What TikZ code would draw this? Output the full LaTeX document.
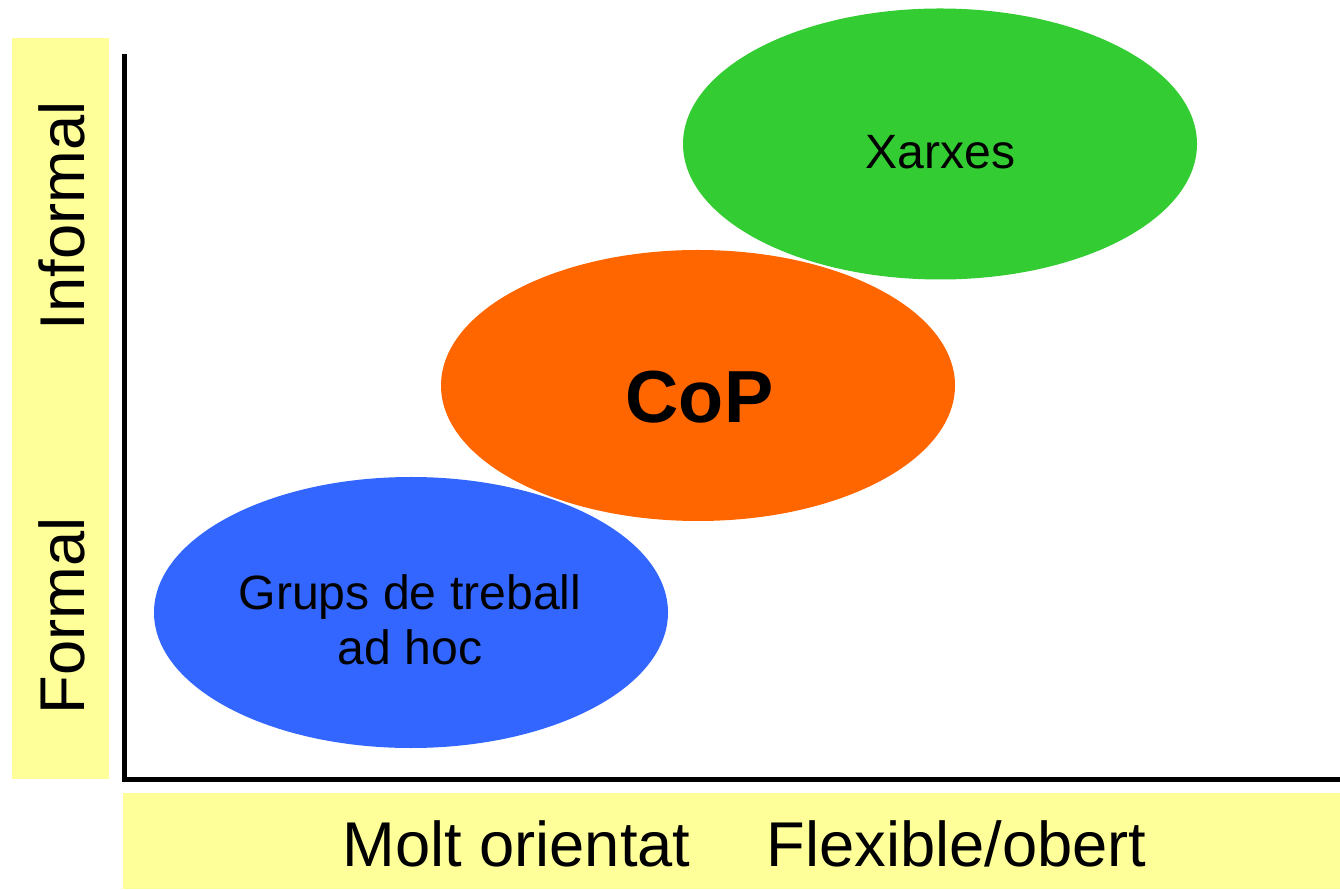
\documentclass[tikz,border=0pt]{standalone}
\usepackage{fontspec}
\setmainfont{Liberation Sans}
\usetikzlibrary{shapes.geometric}

\definecolor{bandyellow}{HTML}{FFFF99}
\definecolor{grupsblue}{HTML}{3366FF}
\definecolor{coporange}{HTML}{FF6600}
\definecolor{xarxgreen}{HTML}{33CC33}

\begin{document}
\begin{tikzpicture}[
    band/.style={fill=bandyellow, draw=none},
    blob/.style={draw=none, ellipse, minimum width=5.14cm, minimum height=2.71cm, inner sep=0pt},
    axislbl/.style={font=\fontsize{18}{21}\selectfont, inner sep=0pt},
    blobtxt/.style={font=\fontsize{13.7}{15.6}\selectfont, align=center, inner sep=0pt}
]
\useasboundingbox (0,0) rectangle (13.40,8.89);

% yellow bands
\fill[band] (0.12,1.10) rectangle (1.09,8.51);
\fill[band] (1.23,0) rectangle (13.40,0.96);

% axes
\coordinate (ytop) at (1.24,8.35);
\coordinate (xend) at (13.45,1.095);
\draw[line width=0.05cm] (ytop) |- (xend);

% ellipses
\node[blob, fill=grupsblue] (grups) at (4.11,2.765) {};
\node[blob, fill=coporange] (cop) at (6.98,5.035) {};
\node[blob, fill=xarxgreen] (xarxes) at (9.40,7.45) {};

% texts in the ellipses
\node[blobtxt, anchor=base] (xarxestxt) at (9.405,7.20) {Xarxes};
\node[blobtxt, anchor=base, font=\fontsize{21}{25}\selectfont\bfseries] (coptxt) at (6.995,4.66) {CoP};
\node[blobtxt] (grupstxt) at (4.10,2.69) {Grups de treball\\ad hoc};

% axis labels
\node[axislbl, rotate=90] (informal) at (0.615,6.73) {Informal};
\node[axislbl, rotate=90] (formal) at (0.615,2.73) {Formal};
\node[axislbl, anchor=base] (molt) at (5.165,0.23) {Molt orientat};
\node[axislbl, anchor=base] (flex) at (9.565,0.23) {Flexible/obert};

\end{tikzpicture}
\end{document}
